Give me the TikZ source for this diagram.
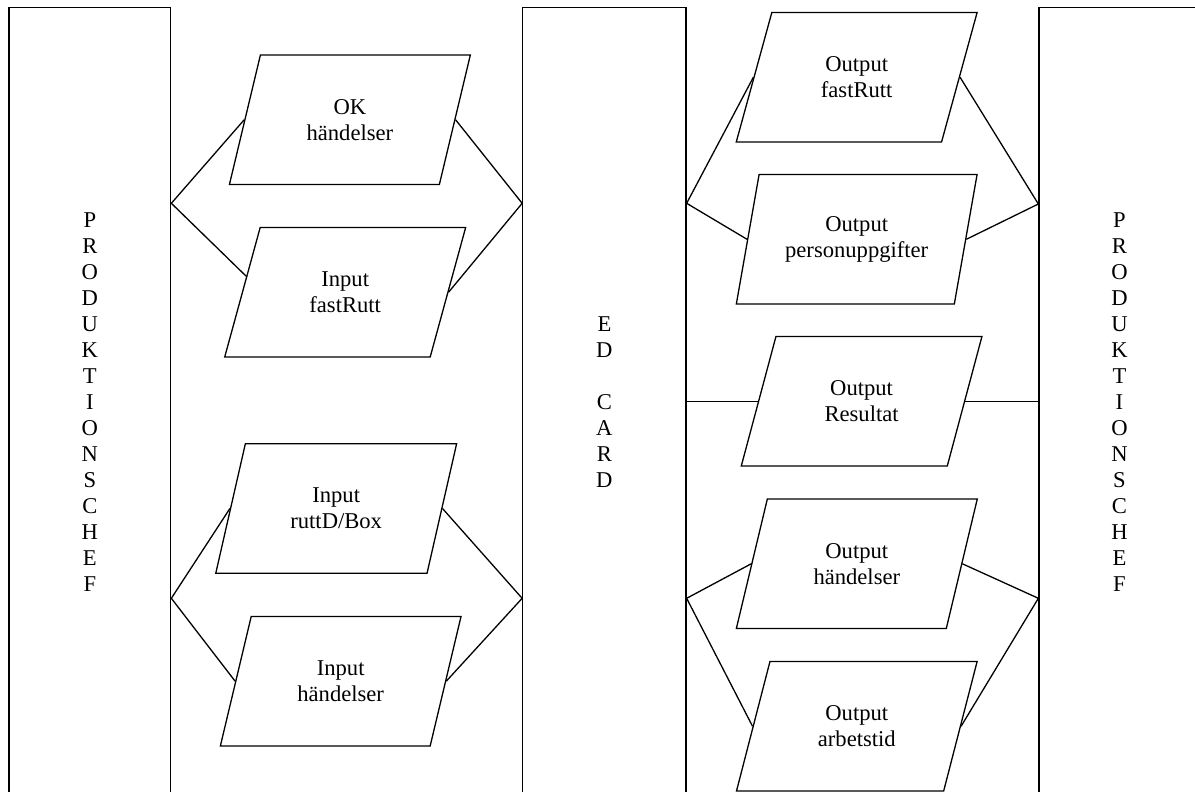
\documentclass[tikz,border=0pt]{standalone}
\usepackage{fontspec}
\setmainfont{Liberation Serif}
\usetikzlibrary{shapes.geometric}
\begin{document}
\begin{tikzpicture}[x=1pt,y=-1pt,
  every node/.style={font=\fontsize{22.6}{26}\selectfont, text=black},
  lane/.style={draw, line width=1.3pt, minimum width=#1, minimum height=790.4, inner sep=0pt, align=center},
  para/.style={draw, shape=trapezium, trapezium left angle=70, trapezium right angle=110,
    trapezium stretches=true, minimum width=241, minimum height=129.5, inner sep=0pt,
    align=center, line width=1.3pt},
  link/.style={line width=1.3pt}]
\useasboundingbox (0,0) rectangle (1195,792);
\clip (0,0) rectangle (1195,792);
% lanes
\node[lane=161.7] (pl) at (89.85,402.5) {P\\R\\O\\D\\U\\K\\T\\I\\O\\N\\S\\C\\H\\E\\F};
\node[lane=163.2] (ed) at (604.4,402.5) {E\\D\\~\\C\\A\\R\\D};
\node[lane=161] (pr) at (1119.5,402.5) {P\\R\\O\\D\\U\\K\\T\\I\\O\\N\\S\\C\\H\\E\\F};
% parallelograms
\node[para] (ok) at (349.9,119.7) {OK\\händelser};
\node[para] (ifr) at (345.2,292.2) {Input\\fastRutt};
\node[para] (irb) at (336.2,508.5) {Input\\ruttD/Box};
\node[para] (ih) at (340.7,681.2) {Input\\händelser};
\node[para] (ofr) at (856.7,77.2) {Output\\fastRutt};
\node[para] (opu) at (856.7,239.3) {Output\\personuppgifter};
\node[para] (ores) at (861.6,401.3) {Output\\Resultat};
\node[para] (oh) at (856.8,563.8) {Output\\händelser};
\node[para] (oa) at (856.8,726.3) {Output\\arbetstid};
% junctions
\coordinate (jl1) at (pl.east |- 0,203.3);
\coordinate (jl2) at (pl.east |- 0,598.3);
\coordinate (je1) at (ed.west |- 0,203.3);
\coordinate (je2) at (ed.west |- 0,598.3);
\coordinate (jo1) at (ed.east |- 0,203.3);
\coordinate (jo2) at (ed.east |- 0,598.3);
\coordinate (jr1) at (pr.west |- 0,204);
\coordinate (jr2) at (pr.west |- 0,598.3);
\coordinate (ifrL) at (247,277);
% connectors
\draw[link] (ok.west) -- (jl1) -- (ifrL);
\draw[link] (ok.east) -- (je1) -- (ifr.east);
\draw[link] (irb.west) -- (jl2) -- (ih.west);
\draw[link] (irb.east) -- (je2) -- (ih.east);
\draw[link] (ofr.west) -- (jo1) -- (opu.west);
\draw[link] (ofr.east) -- (jr1) -- (opu.east);
\draw[link] (ed.east |- ores.west) -- (ores.west);
\draw[link] (ores.east) -- (pr.west |- ores.east);
\draw[link] (oh.west) -- (jo2) -- (oa.west);
\draw[link] (oh.east) -- (jr2) -- (oa.east);
\end{tikzpicture}
\end{document}
